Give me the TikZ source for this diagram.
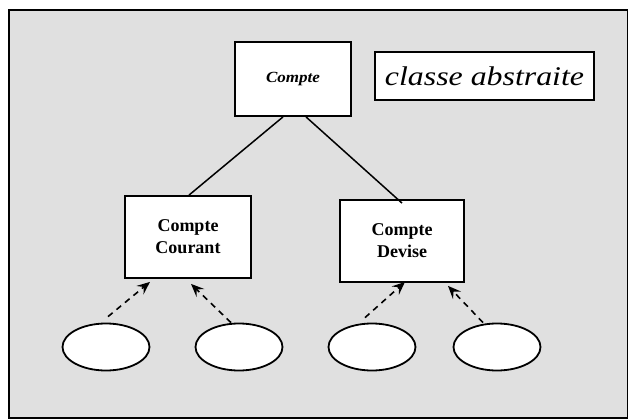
\documentclass[tikz,border=0pt]{standalone}
\usepackage{fontspec}
\usepackage{graphicx}
\setmainfont{Liberation Serif}
\usetikzlibrary{arrows.meta,shapes.geometric}
\definecolor{bggray}{RGB}{224,224,224}
\begin{document}
\begin{tikzpicture}[x=1pt,y=-1pt,
  box/.style={draw,line width=1.8pt,fill=white,inner sep=0pt,align=center},
  oval/.style={draw,ellipse,line width=1.8pt,fill=white,minimum width=87pt,minimum height=47pt,inner sep=0pt},
  link/.style={line width=1.5pt},
  dep/.style={line width=1.6pt,dash pattern=on 6pt off 5pt,-{Stealth[length=13pt,width=11pt,inset=5pt]}}]
\useasboundingbox (0,0) rectangle (629,420);
\fill[white] (0,0) rectangle (629,420);
\draw[line width=1.8pt,fill=bggray] (9,10) rectangle (627.5,418);
\node[box,minimum width=116pt,minimum height=74pt,font=\fontsize{15.5}{18}\selectfont\bfseries\itshape] (compte) at (293,79) {\scalebox{1.1}[1]{Compte}};
\node[box,minimum width=219pt,minimum height=48pt,font=\fontsize{27}{30}\selectfont\itshape] (abs) at (484.5,76) {\scalebox{1.18}[1]{classe abstraite}};
\node[box,minimum width=126pt,minimum height=82pt,font=\fontsize{18}{22}\selectfont\bfseries] (cc) at (188,237) {Compte\\Courant};
\node[box,minimum width=124pt,minimum height=82pt,font=\fontsize{18}{22}\selectfont\bfseries] (cd) at (402,241) {Compte\\Devise};
\node[oval] (e1) at (106,347) {};
\node[oval] (e2) at (239,347) {};
\node[oval] (e3) at (372,347) {};
\node[oval] (e4) at (497,347) {};
\draw[link] ([xshift=-10pt]compte.south) -- ([xshift=1pt]cc.north);
\draw[link] ([xshift=13pt]compte.south) -- ([shift={(0,4)}]cd.north);
\draw[dep] ([shift={(2,-6)}]e1.north) -- ([shift={(-38,3)}]cc.south);
\draw[dep] ([shift={(-8,0)}]e2.north) -- ([shift={(3,5)}]cc.south);
\draw[dep] ([shift={(-7,-5)}]e3.north) -- ([shift={(3,-1)}]cd.south);
\draw[dep] ([shift={(-14,0)}]e4.north) -- ([shift={(46,3)}]cd.south);
\end{tikzpicture}
\end{document}
